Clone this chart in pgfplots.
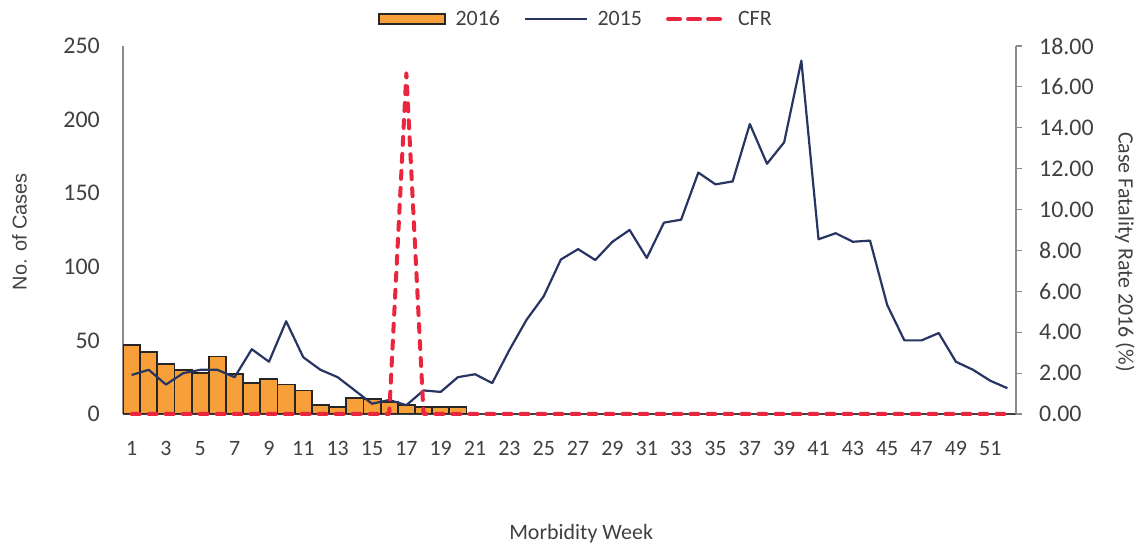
\documentclass[border=0pt]{standalone}
\usepackage{fontspec}
\setmainfont{Carlito}
\newfontfamily\arialfont{Liberation Sans}
\usepackage{pgfplots}
\usepackage{pgfplotstable}
\pgfplotsset{compat=1.18}
\definecolor{barorange}{RGB}{247,160,58}
\definecolor{navy}{RGB}{40,52,98}
\definecolor{cfrred}{RGB}{234,38,62}
\definecolor{txt}{RGB}{64,64,64}
\definecolor{axgray}{RGB}{140,140,140}

\pgfplotstableread{
week cases
1 47
2 42
3 34
4 30
5 28
6 39
7 27
8 21
9 24
10 20
11 16
12 6
13 4.5
14 11
15 10
16 8
17 6
18 4.5
19 4.5
20 5
}\twentysixteen

\pgfplotstableread{
week cases
1 26.5
2 30
3 20
4 27.7
5 30
6 30
7 25
8 44
9 35.5
10 63
11 38.5
12 30
13 25
14 16
15 7
16 9.5
17 6
18 16
19 15
20 25
21 27
22 21
23 43.5
24 64
25 80
26 105
27 112
28 104.6
29 117
30 125
31 106
32 130
33 132
34 164
35 156
36 158
37 197
38 170
39 184.6
40 240
41 118.7
42 122.8
43 117
44 117.8
45 74
46 50
47 50
48 55
49 35.5
50 30
51 22.6
52 17.5
}\twentyfifteen

\pgfplotstableread{
week cfr
1 0
2 0
3 0
4 0
5 0
6 0
7 0
8 0
9 0
10 0
11 0
12 0
13 0
14 0
15 0
16 0
17 16.67
18 0
19 0
20 0
21 0
22 0
23 0
24 0
25 0
26 0
27 0
28 0
29 0
30 0
31 0
32 0
33 0
34 0
35 0
36 0
37 0
38 0
39 0
40 0
41 0
42 0
43 0
44 0
45 0
46 0
47 0
48 0
49 0
50 0
51 0
52 0
}\cfrtable

\begin{document}
\begin{tikzpicture}[x=1bp,y=1bp]
\useasboundingbox (0,0) rectangle (1147,546);
\begin{axis}[
  at={(123bp,132bp)}, anchor=south west,
  width=893bp, height=368bp, scale only axis,
  xmin=0.5, xmax=52.5, ymin=0, ymax=250,
  axis x line*=bottom, axis y line*=left,
  xtick={1,3,...,51}, ytick={0,50,...,250},
  tick style={draw=none},
  x axis line style={draw=black!75, line width=1.5bp, -},
  y axis line style={draw=axgray, line width=1.2bp, -},
  xticklabel style={font=\fontsize{22}{26}\selectfont, text=txt, inner sep=0pt, anchor=north, yshift=-27bp},
  yticklabel style={font=\fontsize{24}{28}\selectfont, text=txt, inner sep=0pt, anchor=east, xshift=-23bp},
  /pgf/number format/assume math mode=true,
  /pgf/number format/1000 sep={},
  xlabel={Morbidity Week},
  xlabel style={font=\fontsize{22}{26}\selectfont, text=txt, at={(axis description cs:0.513,0)}, anchor=north, inner sep=0pt, yshift=-110bp},
  ylabel={No. of Cases},
  ylabel style={font=\arialfont\fontsize{20}{24}\selectfont, text=txt, at={(axis description cs:-0.1159,0.495)}, anchor=center, inner sep=0pt},
]
\addplot[ybar, bar width=1, bar shift=0, fill=barorange, draw=black!85, line width=1.8bp] table[x=week, y=cases] {\twentysixteen};
\addplot[navy, line width=2.2bp, line join=round] table[x=week, y=cases] {\twentyfifteen};
\end{axis}
\begin{axis}[
  at={(123bp,132bp)}, anchor=south west,
  width=893bp, height=368bp, scale only axis,
  xmin=0.5, xmax=52.5, ymin=0, ymax=18,
  clip=false,
  axis x line=none, axis y line*=right,
  ytick={0,2,...,18},
  tick align=outside, major tick length=6bp,
  ytick style={draw=axgray, line width=1.2bp},
  y axis line style={draw=axgray, line width=1.2bp, -},
  yticklabel style={font=\fontsize{24}{28}\selectfont, text=txt, inner sep=0pt, anchor=west, xshift=17bp},
  /pgf/number format/assume math mode=true,
  /pgf/number format/fixed,
  /pgf/number format/fixed zerofill,
  /pgf/number format/precision=2,
  ylabel={Case Fatality Rate 2016 (\%)},
  ylabel style={font=\fontsize{22}{26}\selectfont, text=txt, at={(axis description cs:1.122,0.44)}, anchor=center, inner sep=0pt, rotate=180},
  legend columns=3,
  legend style={at={(axis description cs:0.507,1.073)}, anchor=center, draw=none, fill=none,
    font=\fontsize{22}{26}\selectfont, text=txt, inner sep=0pt,
    /tikz/every odd column/.append style={column sep=8bp},
    /tikz/every even column/.append style={column sep=22bp}},
]
\addlegendimage{legend image code/.code={\draw[fill=barorange, draw=black!85, line width=1.8bp] (0bp,-5bp) rectangle (66bp,5bp);}}
\addlegendentry{2016}
\addlegendimage{legend image code/.code={\draw[navy, line width=1.6bp] (0bp,0bp) -- (62bp,0bp);}}
\addlegendentry{2015}
\addplot[cfrred, line width=4bp, dash pattern=on 8bp off 9bp, line cap=round, line join=round,
  legend image code/.code={\draw[cfrred, line width=4bp, dash pattern=on 12bp off 8bp, line cap=round] (2bp,0bp) -- (60bp,0bp);}]
  table[x=week, y=cfr] {\cfrtable};
\addlegendentry{CFR}
\end{axis}
\end{tikzpicture}
\end{document}
